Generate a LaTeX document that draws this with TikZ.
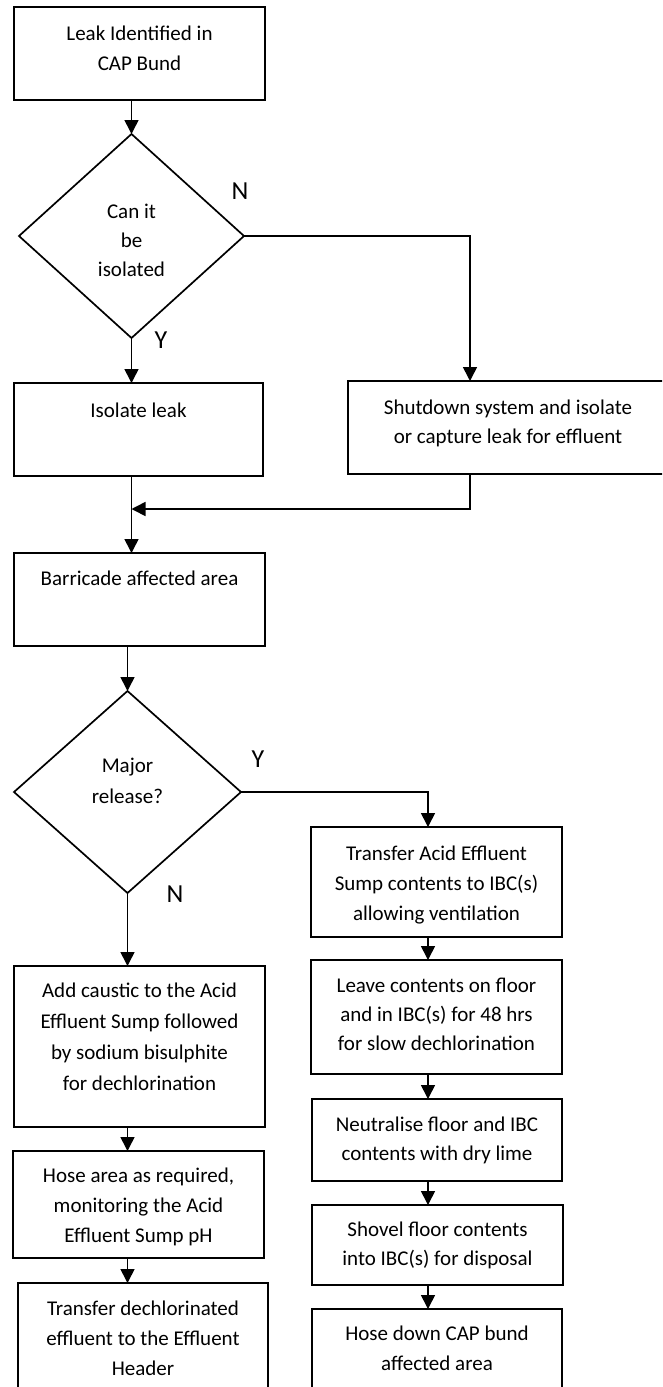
\documentclass[tikz,border=0pt]{standalone}
\usepackage{fontspec}
\setmainfont{Carlito}
\usetikzlibrary{shapes.geometric,arrows.meta}

% fixed-size text block: width, height, first baseline, line spacing, text
\newcommand{\boxtext}[5]{%
  \begin{minipage}[c][#2pt][t]{#1pt}\fontsize{21pt}{#4pt}\selectfont\centering
  \rule{0pt}{#3pt}#5\end{minipage}}

\begin{document}
\begin{tikzpicture}[x=1pt,y=-1pt,
  proc/.style={draw, rectangle, line width=1.7pt, inner sep=0pt, outer sep=0pt, anchor=north west},
  dec/.style={draw, diamond, line width=1.7pt, inner sep=0pt, outer sep=0pt},
  flow/.style={line width=1.6pt, -{Triangle[length=14pt,width=14pt]}},
  yn/.style={anchor=base, inner sep=0pt, font=\fontsize{26pt}{30pt}\selectfont}]

\useasboundingbox (0,0) rectangle (662,1387);
\fill[white] (0,0) rectangle (662,1387);
\clip (0,0) rectangle (662,1387);

% upper part
\node[proc] (leak) at (14,7) {\boxtext{251}{93}{33}{30}{Leak Identified in\\CAP Bund}};
\node[dec, minimum width=225pt, minimum height=204pt] (d1) at (131.5,236)
  {\boxtext{100}{90}{27}{29}{Can it\\be\\isolated}};
\node[proc] (iso) at (14,383) {\boxtext{249}{93}{34}{30}{Isolate leak}};
\node[proc] (shut) at (348,381) {\boxtext{320}{93}{33}{29}{Shutdown system and isolate\\or capture leak for effluent}};
\node[proc] (bar) at (14,553) {\boxtext{251}{93}{32}{30}{Barricade affected area}};
\node[dec, minimum width=227pt, minimum height=202pt] (d2) at (127.5,792)
  {\boxtext{100}{90}{25}{31}{Major\\release?}};

% right branch
\node[proc] (tae) at (311,827) {\boxtext{251}{110}{33}{30}{Transfer Acid Effluent\\Sump contents to IBC(s)\\allowing ventilation}};
\node[proc] (lc) at (311,960) {\boxtext{251}{114}{32}{29}{Leave contents on floor\\and in IBC(s) for 48 hrs\\for slow dechlorination}};
\node[proc] (neu) at (312,1099) {\boxtext{250}{82}{32}{29}{Neutralise floor and IBC\\contents with dry lime}};
\node[proc] (sho) at (312,1205) {\boxtext{251}{80}{31}{29}{Shovel floor contents\\into IBC(s) for disposal}};
\node[proc] (hdc) at (312,1309) {\boxtext{250}{100}{31}{30}{Hose down CAP bund\\affected area}};

% left branch
\node[proc] (ac) at (14,966) {\boxtext{251}{161}{31}{31}{Add caustic to the Acid\\Effluent Sump followed\\by sodium bisulphite\\for dechlorination}};
\node[proc] (ha) at (13,1151) {\boxtext{251}{107}{31}{30}{Hose area as required,\\monitoring the Acid\\Effluent Sump pH}};
\node[proc] (td) at (18,1283) {\boxtext{250}{120}{32}{30}{Transfer dechlorinated\\effluent to the Effluent\\Header}};

% decision labels
\node[yn] (n1) at (240,199) {N};
\node[yn] (y1) at (161,348) {Y};
\node[yn] (y2) at (258,767) {Y};
\node[yn] (n2) at (175,902) {N};

% connectors
\coordinate (mj) at (131.5,509);
\draw[flow] (leak.south -| d1.north) -- (d1.north);
\draw[flow] (d1.south) -- (d1.south |- iso.north);
\draw[flow] (d1.east) -| ([xshift=-38pt]shut.north);
\draw[flow] ([xshift=-38pt]shut.south) |- (mj);
\draw[flow] (d1.south |- iso.south) -- (d1.south |- bar.north);
\draw[flow] (d2.north |- bar.south) -- (d2.north);

\draw[flow] (d2.east) -| ([xshift=-8.5pt]tae.north);
\draw[flow] ([xshift=-8.5pt]tae.south) -- ([xshift=-8.5pt]lc.north);
\draw[flow] ([xshift=-8.5pt]lc.south) -- ([xshift=-8.5pt]lc.south |- neu.north);
\draw[flow] ([xshift=-8.5pt]lc.south |- neu.south) -- ([xshift=-8.5pt]lc.south |- sho.north);
\draw[flow] ([xshift=-8.5pt]lc.south |- sho.south) -- ([xshift=-8.5pt]lc.south |- hdc.north);

\draw[flow] (d2.south) -- (d2.south |- ac.north);
\draw[flow] (d2.south |- ac.south) -- (d2.south |- ha.north);
\draw[flow] (d2.south |- ha.south) -- (d2.south |- td.north);
\end{tikzpicture}
\end{document}
